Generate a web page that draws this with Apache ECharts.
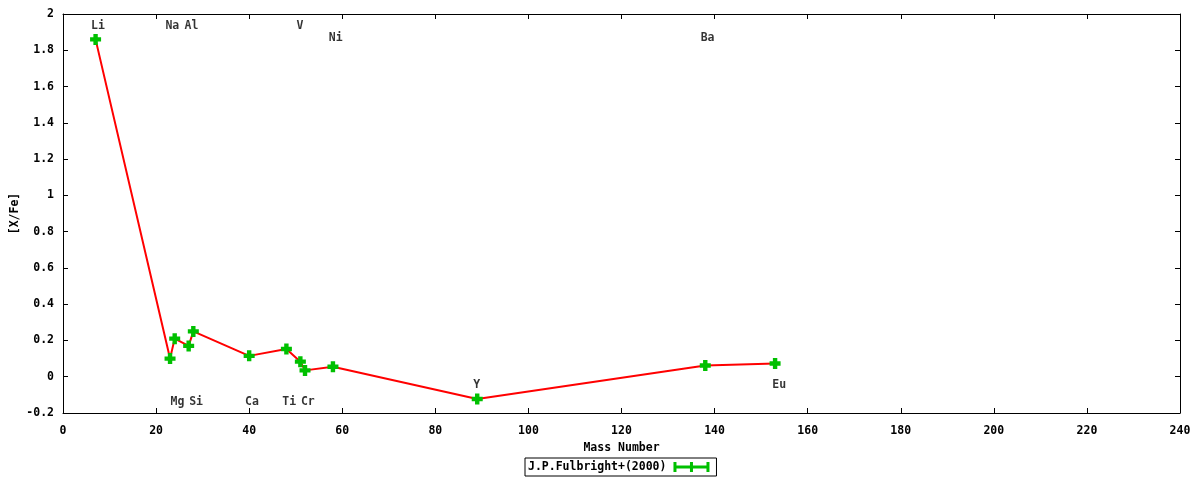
<!DOCTYPE html>
<html>
<head>
<meta charset="utf-8">
<script src="https://cdn.jsdelivr.net/npm/echarts@6/dist/echarts.min.js"></script>
<style>html,body{margin:0;padding:0;background:#fff}#c{width:1200px;height:480px}</style>
</head>
<body>
<div id="c"></div>
<script>
// Data
const elements = ['Li','Na','Mg','Al','Si','Ca','Ti','V','Cr','Ni','Y','Ba','Eu'];
const massNumber = [7, 23, 24, 27, 28, 40, 48, 51, 52, 58, 89, 138, 153];
const xFe = [1.86, 0.10, 0.21, 0.17, 0.25, 0.115, 0.153, 0.083, 0.035, 0.055, -0.123, 0.062, 0.073];
// Element annotation positions (data coordinates)
const labelNames = ['Li','Na','Al','V','Ni','Ba','Mg','Si','Ca','Ti','Cr','Y','Eu'];
const labelX = [7.5, 23.5, 27.6, 50.9, 58.6, 138.5, 24.6, 28.6, 40.6, 48.6, 52.6, 88.9, 153.9];
const labelY = [1.933, 1.933, 1.933, 1.933, 1.866, 1.866, -0.137, -0.137, -0.137, -0.137, -0.137, -0.048, -0.048];
const seriesName = 'J.P.Fulbright+(2000)';
const xTicks = {min: 0, max: 240, interval: 20};
const yTicks = {min: -0.2, max: 2, interval: 0.2};

const FONT = 'DejaVu Sans Mono';
const txt = {fontFamily: FONT, fontWeight: 'bold', fontSize: 11.5, color: '#000'};
const plus = 'path://M3,0H7V3H10V7H7V10H3V7H0V3H3Z';
const legendIcon = 'path://M0,0H3V3.5H16.5V0H19.5V3.5H33V0H36V10H33V6.5H19.5V10H16.5V6.5H3V10H0Z';

const chart = echarts.init(document.getElementById('c'), null, {renderer: 'canvas'});
const baseAxisLine = {show: true, onZero: false, lineStyle: {color: '#000', width: 1}};
const tick = {show: true, inside: true, length: 5, lineStyle: {color: '#000', width: 1}};
chart.setOption({
  animation: false,
  grid: {left: 63, right: 20, top: 14, bottom: 67, containLabel: false, outerBoundsMode: 'none'},
  xAxis: [
    {type: 'value', min: xTicks.min, max: xTicks.max, interval: xTicks.interval,
     name: 'Mass Number', nameLocation: 'middle', nameGap: 29, nameTextStyle: txt,
     axisLine: baseAxisLine, axisTick: tick, splitLine: {show: false},
     axisLabel: Object.assign({margin: 12}, txt)},
    {type: 'value', position: 'top', min: xTicks.min, max: xTicks.max, interval: xTicks.interval,
     axisLine: baseAxisLine, axisTick: tick, splitLine: {show: false}, axisLabel: {show: false}}
  ],
  yAxis: [
    {type: 'value', min: yTicks.min, max: yTicks.max, interval: yTicks.interval,
     name: '[X/Fe]', nameLocation: 'middle', nameGap: 42, nameMoveOverlap: false, nameTextStyle: txt,
     axisLine: baseAxisLine, axisTick: tick, splitLine: {show: false},
     axisLabel: Object.assign({margin: 9, formatter: v => String(+v.toFixed(1))}, txt)},
    {type: 'value', position: 'right', min: yTicks.min, max: yTicks.max, interval: yTicks.interval,
     axisLine: baseAxisLine, axisTick: tick, splitLine: {show: false}, axisLabel: {show: false}}
  ],
  legend: {
    data: [{name: seriesName, icon: legendIcon}],
    top: 458, left: 525, align: 'right',
    itemWidth: 36, itemHeight: 10, itemGap: 6,
    borderColor: '#000', borderWidth: 1, padding: [3, 7, 3, 3],
    textStyle: Object.assign({padding: [0, 2, 0, 0]}, txt),
    itemStyle: {color: '#00c000'}
  },
  series: [
    {name: seriesName, type: 'line',
     data: massNumber.map((m, i) => [m, xFe[i]]),
     lineStyle: {color: '#ff0000', width: 2},
     itemStyle: {color: '#00c000'},
     symbol: plus, symbolSize: 11, showSymbol: true, z: 3},
    {name: 'labels', type: 'scatter', symbolSize: 0, silent: true,
     data: labelNames.map((n, i) => ({name: n, value: [labelX[i], labelY[i]]})),
     label: Object.assign({show: true, position: 'inside', formatter: p => p.name}, txt, {color: '#000'}),
     z: 4}
  ]
});
</script>
</body>
</html>
